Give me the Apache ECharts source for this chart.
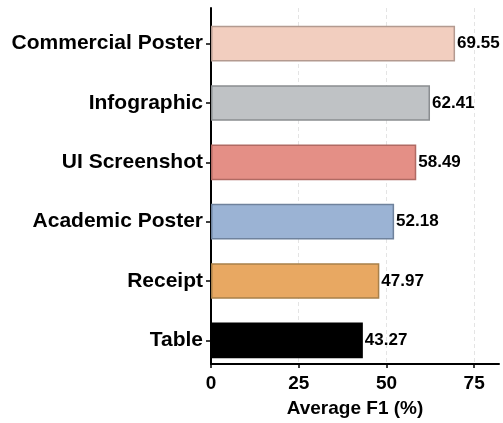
<!DOCTYPE html>
<html>
<head>
<meta charset="utf-8">
<script src="https://cdn.jsdelivr.net/npm/echarts@6/dist/echarts.min.js"></script>
<style>
  html, body { margin: 0; padding: 0; background: #fff; }
  #chart { width: 503px; height: 423px; }
</style>
</head>
<body>
<div id="chart"></div>
<script>
// Document types, listed bottom to top as they appear on the axis
const categories = ['Table', 'Receipt', 'Academic Poster', 'UI Screenshot', 'Infographic', 'Commercial Poster'];
const f1Scores = [43.27, 47.97, 52.18, 58.49, 62.41, 69.55];
const fillColors = ['#000000', '#e8a862', '#9bb3d4', '#e48f86', '#bfc2c5', '#f2cebf'];
const edgeColors = ['#000000', '#a8804a', '#6f829c', '#b06a63', '#8a8d90', '#b39a90'];
const xTicks = [0, 25, 50, 75];

const xMax = 82.07;
const font = '"Liberation Sans", Arial, Helvetica, sans-serif';

const chart = echarts.init(document.getElementById('chart'));
chart.setOption({
  animation: false,
  backgroundColor: '#ffffff',
  grid: [
    // frame grid: carries the visible axes and the dashed guides
    { left: 211, right: 4, top: 8, bottom: 49 },
    // bar grid: category bands inset slightly inside the frame
    { left: 211, right: 4, top: 14, bottom: 53 }
  ],
  xAxis: [
    {
      gridIndex: 0, type: 'value', min: 0, max: xMax,
      name: 'Average F1 (%)', nameLocation: 'middle', nameGap: 35,
      nameTextStyle: { fontFamily: font, fontWeight: 'bold', fontSize: 19, color: '#000' },
      axisLine: { show: true, lineStyle: { color: '#000', width: 2 } },
      axisTick: { show: true, length: 4, customValues: xTicks, lineStyle: { color: '#000', width: 1.5 } },
      axisLabel: {
        fontFamily: font, fontWeight: 'bold', fontSize: 19, color: '#000', margin: 10,
        customValues: xTicks
      },
      splitLine: { show: true, lineStyle: { color: '#e4e4e4', type: [4, 3], width: 1 } }
    },
    {
      gridIndex: 1, type: 'value', min: 0, max: xMax, show: false
    }
  ],
  yAxis: [
    {
      gridIndex: 0, type: 'value', min: 0, max: 1,
      axisLine: { show: true, lineStyle: { color: '#000', width: 2 } },
      axisTick: { show: false }, axisLabel: { show: false }, splitLine: { show: false }
    },
    {
      gridIndex: 1, type: 'category', data: categories,
      axisLine: { show: false },
      axisTick: { show: true, alignWithLabel: true, length: 5, lineStyle: { color: '#000', width: 1.5 } },
      axisLabel: { fontFamily: font, fontWeight: 'bold', fontSize: 21, color: '#000', margin: 8 }
    }
  ],
  series: [{
    type: 'bar',
    xAxisIndex: 1, yAxisIndex: 1,
    barWidth: '60%',
    data: f1Scores.map((v, i) => ({
      value: v,
      itemStyle: { color: fillColors[i], borderColor: edgeColors[i], borderWidth: 1.5 }
    })),
    label: {
      show: true, position: 'right', distance: 2,
      fontFamily: font, fontWeight: 'bold', fontSize: 17, color: '#000',
      formatter: p => p.value.toFixed(2)
    }
  }]
});
</script>
</body>
</html>
